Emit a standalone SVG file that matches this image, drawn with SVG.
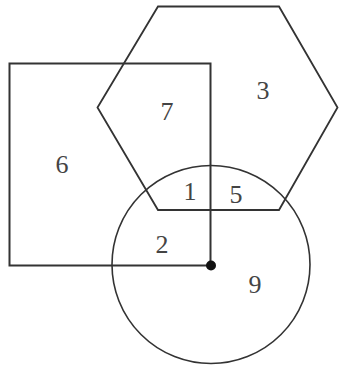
<svg xmlns="http://www.w3.org/2000/svg" width="339" height="371" viewBox="0 0 339 371">
<style>
.s{fill:none;stroke:#333;stroke-width:2}
.t{font-family:"Liberation Serif",serif;font-size:26px;fill:#444;text-anchor:middle}
</style>
<rect width="339" height="371" fill="#fff"/>
<g id="square"><polyline class="s" points="210.5,266 210.5,63.5 9.5,63.5 9.5,265.5 210.5,265.5"/><text class="t" x="62" y="173">6</text></g>
<g id="hexagon"><polygon class="s" style="stroke-width:1.8" points="158,6.5 279,6.5 337.5,107.5 279,210 158,210 97.5,107.5"/><text class="t" x="167" y="120">7</text><text class="t" x="263" y="99">3</text></g>
<g id="circle"><circle class="s" style="stroke-width:1.6" cx="211" cy="264.5" r="99"/><text class="t" x="255" y="293">9</text></g>
<g id="labels"><text class="t" x="190" y="200">1</text><text class="t" x="236" y="203">5</text><text class="t" x="162" y="253">2</text></g>
<g id="connectors"><circle cx="211" cy="265.5" r="5" fill="#111"/></g>
</svg>
